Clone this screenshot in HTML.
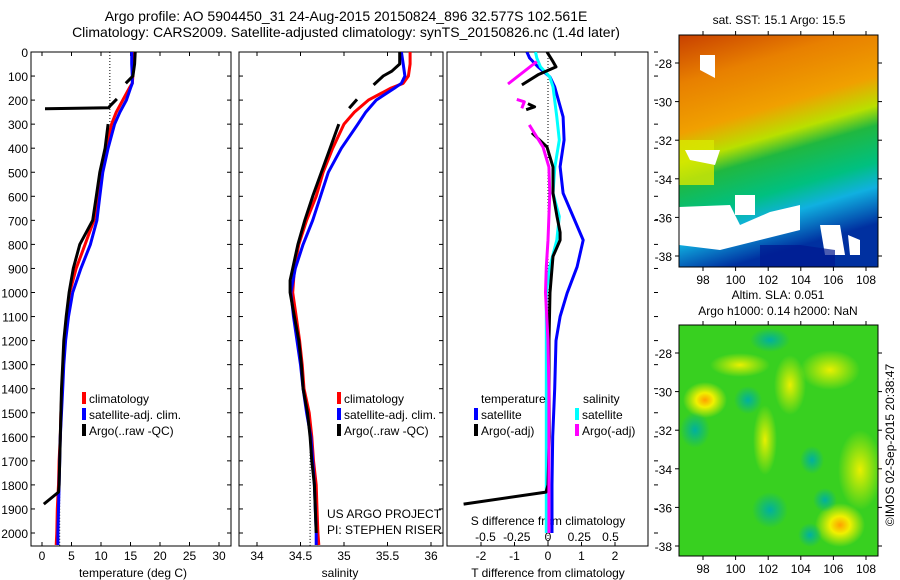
<!DOCTYPE html>
<html><head><meta charset="utf-8">
<style>
body{margin:0;background:#fff;}
svg{display:block;font-family:"Liberation Sans",sans-serif;}
</style></head>
<body>
<svg id="c" width="900" height="580" viewBox="0 0 900 580" xmlns="http://www.w3.org/2000/svg">
<defs>
<linearGradient id="sstg" x1="0" y1="0" x2="0.25" y2="1">
<stop offset="0" stop-color="#c84000"/><stop offset="0.2" stop-color="#e88000"/><stop offset="0.4" stop-color="#f0a000"/><stop offset="0.52" stop-color="#b8e000"/><stop offset="0.6" stop-color="#20b840"/><stop offset="0.75" stop-color="#00c080"/><stop offset="0.85" stop-color="#10b0e0"/><stop offset="1" stop-color="#0030a0"/>
</linearGradient>
<radialGradient id="yb"><stop offset="0" stop-color="#ffa000"/><stop offset="0.4" stop-color="#f0f000"/><stop offset="1" stop-color="#f0f000" stop-opacity="0"/></radialGradient>
<radialGradient id="yb2"><stop offset="0" stop-color="#e8f000"/><stop offset="1" stop-color="#e8f000" stop-opacity="0"/></radialGradient>
<radialGradient id="tb"><stop offset="0" stop-color="#00b0a0"/><stop offset="1" stop-color="#00b0a0" stop-opacity="0"/></radialGradient>
</defs>
<text x="346" y="21" font-size="14" text-anchor="middle">Argo profile: AO 5904450_31 24-Aug-2015 20150824_896 32.577S 102.561E</text>
<text x="346" y="37" font-size="14" text-anchor="middle">Climatology: CARS2009. Satellite-adjusted climatology: synTS_20150826.nc (1.4d later)</text>
<g id="plots"></g>
<g id="maps">
<text x="779" y="24" font-size="12" text-anchor="middle">sat. SST: 15.1 Argo: 15.5</text>
<g>
<rect x="679" y="35" width="199" height="232" fill="url(#sstg)"/>
<rect x="679" y="140" width="35" height="45" fill="#d8e800" opacity="0.8"/>
<path d="M679 207 L730 205 L740 225 L770 212 L800 205 L800 230 L760 240 L720 250 L679 245 Z" fill="#fff"/>
<path d="M685 150 L720 150 L715 165 L690 160 Z M735 195 L755 195 L755 215 L735 215 Z M700 55 L715 55 L715 78 L700 70 Z" fill="#fff"/>
<path d="M820 225 L840 225 L845 255 L825 255 Z M848 235 L860 240 L860 255 L850 255Z" fill="#fff"/>
<path d="M760 245 L800 245 L835 250 L835 267 L760 267Z" fill="#001890" opacity="0.7"/>
<rect x="679" y="35" width="199" height="232" fill="none" stroke="#000"/>
</g>
<text x="778" y="299" font-size="12" text-anchor="middle">Altim. SLA: 0.051</text>
<text x="778" y="315" font-size="12" text-anchor="middle">Argo h1000: 0.14 h2000: NaN</text>
<g>
<rect x="679" y="325" width="199" height="231" fill="#38d020"/>
<ellipse cx="705" cy="400" rx="22" ry="18" fill="url(#yb)"/>
<ellipse cx="790" cy="385" rx="16" ry="30" fill="url(#yb2)"/>
<ellipse cx="740" cy="365" rx="30" ry="12" fill="url(#yb2)"/>
<ellipse cx="765" cy="440" rx="12" ry="35" fill="url(#yb2)"/>
<ellipse cx="840" cy="525" rx="25" ry="22" fill="url(#yb)"/>
<ellipse cx="860" cy="470" rx="22" ry="40" fill="url(#yb2)"/>
<ellipse cx="830" cy="370" rx="30" ry="20" fill="url(#yb2)"/>
<ellipse cx="695" cy="430" rx="15" ry="18" fill="url(#tb)"/>
<ellipse cx="748" cy="400" rx="14" ry="14" fill="url(#tb)"/>
<ellipse cx="812" cy="460" rx="12" ry="14" fill="url(#tb)"/>
<ellipse cx="825" cy="500" rx="12" ry="12" fill="url(#tb)"/>
<ellipse cx="770" cy="510" rx="18" ry="18" fill="url(#tb)"/>
<ellipse cx="810" cy="535" rx="12" ry="12" fill="url(#tb)"/>
<ellipse cx="770" cy="340" rx="20" ry="12" fill="url(#tb)"/>
<rect x="679" y="325" width="199" height="231" fill="none" stroke="#000"/>
</g>
<text transform="translate(894,445) rotate(-90)" font-size="12" text-anchor="middle">©IMOS 02-Sep-2015 20:38:47</text>
</g>
</svg>
<script>
const depths=[0,50,100,130,150,200,250,300,400,500,600,700,800,900,1000,1100,1200,1300,1400,1500,1600,1700,1800,1900,2000,2050];
const tempClim=[15.5,15.5,15.4,15.3,14.8,13.7,12.6,11.8,10.8,10.0,9.5,8.8,7.3,5.8,4.7,4.2,3.8,3.6,3.4,3.2,3.1,2.9,2.8,2.6,2.5,2.4];
const tempSat=[15.2,15.2,15.3,15.3,15.0,14.3,13.2,12.3,11.2,10.3,9.8,9.3,8.2,6.6,5.2,4.5,4.0,3.7,3.5,3.3,3.1,3.0,2.9,2.8,2.7,2.7];
const argoTDepth=[0,50,100,130,null,195,225,232,234,236,null,300,400,500,600,700,800,900,1000,1100,1200,1300,1400,1500,1600,1700,1800,1830,1880];
const argoTemp=[15.8,15.7,15.4,14.2,null,12.7,11.5,11.3,6,0.5,null,11.2,10.7,9.8,9.2,8.6,6.4,5.3,4.6,4.1,3.7,3.5,3.3,3.2,3.1,3.0,2.9,2.8,0.3];
const salClim=[35.76,35.76,35.74,35.68,35.54,35.28,35.12,35.0,34.87,34.76,34.68,34.57,34.48,34.43,34.41,34.45,34.49,34.52,34.54,34.6,34.63,34.65,34.68,34.69,34.70,34.71];
const salSat=[35.66,35.68,35.70,35.66,35.58,35.37,35.25,35.16,34.97,34.82,34.73,34.64,34.53,34.44,34.39,34.42,34.46,34.5,34.53,34.57,34.62,34.64,34.66,34.67,34.68,34.68];
const argoSDepth=[0,50,80,100,137,null,197,234,null,300,400,500,600,700,800,900,950,1000,1100,1200,1300,1400,1500,1600,1700,1800,1900,2000];
const argoSal=[35.64,35.64,35.55,35.45,35.34,null,35.15,35.06,null,34.94,34.84,34.74,34.64,34.55,34.47,34.41,34.38,34.38,34.43,34.48,34.51,34.53,34.58,34.61,34.63,34.66,34.67,34.68];
const dTDepth=[0,25,62,104,145,270,366,477,587,684,782,893,1003,1100,1200,1400,1600,1800,2000];
const dTSat=[-0.63,-0.55,-0.3,0.06,0.2,0.45,0.48,0.36,0.45,0.75,1.05,0.87,0.57,0.36,0.24,0.2,0.14,0.12,0.12];
const dSSat=[-0.1,-0.09,-0.06,0.014,0.04,0.07,0.09,0.055,0.04,0.09,0.07,0.014,-0.014,-0.014,-0.014,-0.014,-0.014,-0.014,-0.014];
const dTArgoDepth=[0,40,62,95,137,null,215,228,240,null,336,395,478,587,684,750,782,850,1000,1200,1400,1600,1800,1830,1880];
const dTArgo=[-0.03,0.15,0.24,-0.3,-0.78,null,-0.6,-0.4,-0.65,null,-0.48,-0.03,0.15,0.15,0.27,0.36,0.36,0.15,0.06,0.03,0.03,0.04,0.0,-0.06,-2.52];
const dSArgoDepth=[40,133,null,197,207,234,null,303,395,478,587,684,782,893,1000,1200,1400,1600,1800,2000];
const dSArgo=[-0.09,-0.32,null,-0.25,-0.19,-0.21,null,-0.15,-0.04,0.007,0.014,0.007,0.0,-0.014,-0.02,0.0,0.007,0.007,0.007,0.007];
const depthTicks=[0,100,200,300,400,500,600,700,800,900,1000,1100,1200,1300,1400,1500,1600,1700,1800,1900,2000];
const tempTicks=[0,5,10,15,20,25,30];
const salTicks=[34,34.5,35,35.5,36];
const salTickLabels=["34","34.5","35","35.5","36"];
const dTTicks=[-2,-1,0,1,2];
const dSTicks=[-0.5,-0.25,0,0.25,0.5];
const dSTickLabels=["-0.5","-0.25","0","0.25","0.5"];

const NS='http://www.w3.org/2000/svg';
const root=document.getElementById('plots');
const Y0=52,Y1=546;
function yD(d){return Y0+d*0.2405;}
function xT(t){return 42+t*5.9;}
function xS(s){return 257+(s-34)*87;}
function xDT(t){return 548+t*33.5;}
function xDS(s){return 548+s*125;}
function mk(tag,attrs,parent){const e=document.createElementNS(NS,tag);for(const k in attrs)e.setAttribute(k,attrs[k]);(parent||root).appendChild(e);return e;}
function line(xs,ds,xf,color,w,name){
  let d='',pen=false;
  for(let i=0;i<xs.length;i++){
    if(xs[i]===null||ds[i]===null){pen=false;continue;}
    d+=(pen?'L':'M')+xf(xs[i]).toFixed(1)+' '+yD(ds[i]).toFixed(1);pen=true;
  }
  const p=mk('path',{d:d,fill:'none',stroke:color,'stroke-width':w,'stroke-linejoin':'round'});
  
  
  return p;
}
function text(x,y,s,anchor,size,name){
  const t=mk('text',{x:x,y:y,'font-size':size||12,'text-anchor':anchor||'start'});
  t.textContent=s;
  
  
  return t;
}
function frame(x0,x1,name){
  const r=mk('rect',{x:x0,y:Y0,width:x1-x0,height:Y1-Y0,fill:'none',stroke:'#000','stroke-width':1});
  
  
}
function yTicks(x0,x1,labels){
  depthTicks.forEach(d=>{
    const y=yD(d);
    mk('line',{x1:x0,x2:x0+4,y1:y,y2:y,stroke:'#000'});
    mk('line',{x1:x1,x2:x1-4,y1:y,y2:y,stroke:'#000'});
    if(labels) text(28,y+5,String(d),'end',12,'depth-tick-label');
  });
}
function xTicks(vals,xf,labs,ly){
  vals.forEach((v,i)=>{
    const x=xf(v);
    mk('line',{x1:x,x2:x,y1:Y1,y2:Y1-4,stroke:'#000'});
    mk('line',{x1:x,x2:x,y1:Y0,y2:Y0+4,stroke:'#000'});
    if(labs) text(x,ly,labs[i],'middle',12,'x-tick-label');
  });
}
function legendItem(x,y,color,s){
  const r=mk('rect',{x:x,y:y-11,width:4,height:12,fill:color});
  
  
  text(x+7,y,s,'start',12,'legend-entry');
}
const defs=document.querySelector('defs');
[[31,231,'c1'],[239,443,'c2'],[447,648,'c3']].forEach(a=>{
  const cp=mk('clipPath',{id:a[2]},defs);mk('rect',{x:a[0],y:Y0,width:a[1]-a[0],height:Y1-Y0},cp);
});
let g;
function into(p){g.appendChild(p);}
// Panel 1
frame(31,231,'temperature-panel');
yTicks(31,231,true);
xTicks(tempTicks,xT,tempTicks.map(String),560);
text(133,577,'temperature (deg C)','middle',12,'temperature-axis-title');
g=mk('g',{'clip-path':'url(#c1)'});
mk('line',{x1:xT(11.5),x2:xT(11.5),y1:yD(0),y2:yD(300),stroke:'#000','stroke-dasharray':'1,2'},g);
mk('line',{x1:xT(3),x2:xT(3),y1:yD(1550),y2:yD(2055),stroke:'#000','stroke-dasharray':'1,2'},g);
into(line(tempClim,depths,xT,'#f00',3,'temperature-climatology-line'));
into(line(tempSat,depths,xT,'#00f',3,'temperature-satellite-line'));
into(line(argoTemp,argoTDepth,xT,'#000',3,'temperature-argo-line'));
legendItem(82,403,'#f00','climatology');
legendItem(82,419,'#00f','satellite-adj. clim.');
legendItem(82,435,'#000','Argo(..raw -QC)');
// Panel 2
frame(239,443,'salinity-panel');
yTicks(239,443,false);
xTicks(salTicks,xS,salTickLabels,560);
text(340,577,'salinity','middle',12,'salinity-axis-title');
g=mk('g',{'clip-path':'url(#c2)'});
mk('line',{x1:xS(34.61),x2:xS(34.61),y1:yD(1650),y2:yD(2055),stroke:'#000','stroke-dasharray':'1,2'},g);
into(line(salClim,depths,xS,'#f00',3,'salinity-climatology-line'));
into(line(salSat,depths,xS,'#00f',3,'salinity-satellite-line'));
into(line(argoSal,argoSDepth,xS,'#000',3,'salinity-argo-line'));
legendItem(337,403,'#f00','climatology');
legendItem(337,419,'#00f','satellite-adj. clim.');
legendItem(337,435,'#000','Argo(..raw -QC)');
text(327,518,'US ARGO PROJECT','start',12,'project-credit');
text(327,534,'PI: STEPHEN RISER','start',12,'pi-credit');
// Panel 3
frame(447,648,'difference-panel');
depthTicks.forEach(d=>{const y=yD(d);mk('line',{x1:654,x2:658,y1:y,y2:y,stroke:'#000'});});
xTicks(dTTicks,xDT,dTTicks.map(String),560);
text(548,577,'T difference from climatology','middle',12,'t-difference-axis-title');
text(548,525,'S difference from climatology','middle',12,'s-difference-axis-title');
dSTicks.forEach((v,i)=>text(xDS(v),541,dSTickLabels[i],'middle',12,'s-tick-label'));
g=mk('g',{'clip-path':'url(#c3)'});
mk('line',{x1:548,x2:548,y1:yD(0),y2:yD(2055),stroke:'#000','stroke-dasharray':'1,2'},g);
into(line(dTSat,dTDepth,xDT,'#00f',3,'t-diff-satellite-line'));
into(line(dSSat,dTDepth,xDS,'#0ff',3,'s-diff-satellite-line'));
into(line(dTArgo,dTArgoDepth,xDT,'#000',3,'t-diff-argo-line'));
into(line(dSArgo,dSArgoDepth,xDS,'#f0f',3,'s-diff-argo-line'));
text(481,403,'temperature','start',12,'legend-temperature-heading');
text(583,403,'salinity','start',12,'legend-salinity-heading');
legendItem(474,419,'#00f','satellite');
legendItem(474,435,'#000','Argo(-adj)');
legendItem(575,419,'#0ff','satellite');
legendItem(575,435,'#f0f','Argo(-adj)');
// map axes
const latTicks=[-28,-30,-32,-34,-36,-38];
const lonTicks=[98,100,102,104,106,108];
function mapAxes(top,h,lat0y,name){
  latTicks.forEach(l=>{const y=lat0y+(-28-l)*19.3;
    mk('line',{x1:679,x2:675,y1:y,y2:y,stroke:'#000'});mk('line',{x1:878,x2:882,y1:y,y2:y,stroke:'#000'});
    text(672,y+5,String(l),'end',12,name+'-lat-label');});
  lonTicks.forEach(l=>{const x=703+(l-98)*16.3;
    mk('line',{x1:x,x2:x,y1:top+h,y2:top+h+4,stroke:'#000'});mk('line',{x1:x,x2:x,y1:top,y2:top-4,stroke:'#000'});
    text(x,top+h+17,String(l),'middle',12,name+'-lon-label');});
}
mapAxes(35,232,63,'sst-map');
mapAxes(325,231,353,'sla-map');
</script>
</body></html>
